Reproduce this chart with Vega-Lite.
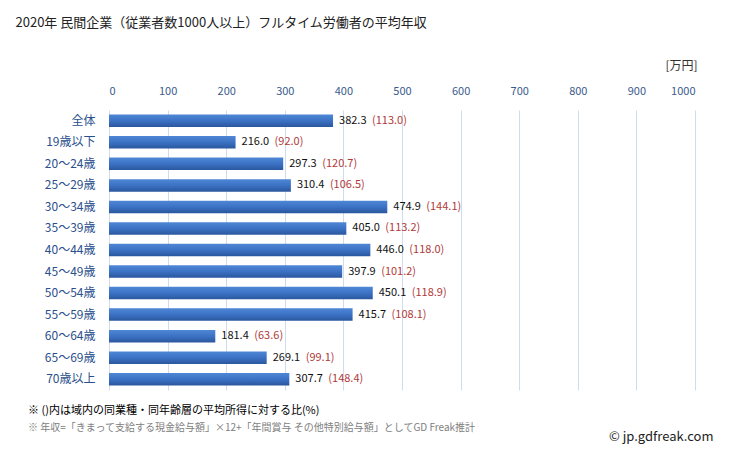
{
  "$schema": "https://vega.github.io/schema/vega-lite/v6.json",
  "autosize": "none",
  "width": 586,
  "height": 280,
  "padding": {"left": 109, "top": 110, "right": 34, "bottom": 61},
  "background": "white",
  "config": {
    "font": "Noto Sans CJK JP",
    "view": {"stroke": null}
  },
  "title": {
    "text": "※ ()内は域内の同業種・同年齢層の平均所得に対する比(%)",
    "subtitle": "※ 年収=「きまって支給する現金給与額」×12+「年間賞与 その他特別給与額」としてGD Freak推計",
    "orient": "bottom",
    "anchor": "start",
    "frame": "group",
    "dx": -81,
    "offset": 0,
    "dy": -38,
    "fontSize": 11,
    "fontWeight": "normal",
    "color": "#000000",
    "subtitleFontSize": 10,
    "subtitleColor": "#808080",
    "subtitlePadding": 7
  },
  "data": {
    "values": [
      {"category": "全体", "value": 382.3, "ratio": 113.0},
      {"category": "19歳以下", "value": 216.0, "ratio": 92.0},
      {"category": "20～24歳", "value": 297.3, "ratio": 120.7},
      {"category": "25～29歳", "value": 310.4, "ratio": 106.5},
      {"category": "30～34歳", "value": 474.9, "ratio": 144.1},
      {"category": "35～39歳", "value": 405.0, "ratio": 113.2},
      {"category": "40～44歳", "value": 446.0, "ratio": 118.0},
      {"category": "45～49歳", "value": 397.9, "ratio": 101.2},
      {"category": "50～54歳", "value": 450.1, "ratio": 118.9},
      {"category": "55～59歳", "value": 415.7, "ratio": 108.1},
      {"category": "60～64歳", "value": 181.4, "ratio": 63.6},
      {"category": "65～69歳", "value": 269.1, "ratio": 99.1},
      {"category": "70歳以上", "value": 307.7, "ratio": 148.4}
    ]
  },
  "transform": [
    {"calculate": "'(' + format(datum.ratio, '.1f') + ')'", "as": "ratio_label"}
  ],
  "resolve": {"axis": {"x": "independent", "y": "independent"}},
  "layer": [
    {
      "mark": {
        "type": "bar",
        "color": {
          "gradient": "linear",
          "x1": 0, "y1": 0, "x2": 0, "y2": 1,
          "stops": [
            {"offset": 0, "color": "#4f87d6"},
            {"offset": 0.5, "color": "#3c72c4"},
            {"offset": 1, "color": "#2a579e"}
          ]
        }
      },
      "encoding": {
        "y": {
          "field": "category",
          "type": "nominal",
          "sort": null,
          "scale": {"paddingInner": 0.42, "paddingOuter": 0.21},
          "axis": {
            "orient": "left",
            "title": "[万円]",
            "titleAngle": 0,
            "titleX": 588,
            "titleY": -45,
            "titleAlign": "right",
            "titleBaseline": "middle",
            "titleFontSize": 12,
            "titleFontWeight": "normal",
            "titleColor": "#333333",
            "ticks": false,
            "domain": false,
            "labelPadding": 14,
            "labelFontSize": 12,
            "labelColor": "#2a4f8c"
          }
        },
        "x": {
          "field": "value",
          "type": "quantitative",
          "scale": {"domain": [0, 1000], "nice": false},
          "axis": {
            "orient": "top",
            "values": [0, 100, 200, 300, 400, 500, 600, 700, 800, 900, 1000],
            "format": "d",
            "title": "2020年 民間企業（従業者数1000人以上）フルタイム労働者の平均年収",
            "titleX": -94,
            "titleY": -88,
            "titleAlign": "left",
            "titleAnchor": null,
            "titleBaseline": "middle",
            "titleFontSize": 13,
            "titleFontWeight": "normal",
            "titleColor": "#222222",
            "ticks": false,
            "domain": false,
            "labelPadding": 14,
            "labelFontSize": 11,
            "labelColor": "#3a5a8c",
            "grid": true,
            "gridColor": "#cfdcef",
            "gridWidth": 1
          }
        }
      }
    },
    {
      "mark": {"type": "text", "align": "left", "baseline": "middle", "dx": 6, "fontSize": 11, "color": "#111111"},
      "encoding": {
        "y": {
          "field": "category",
          "type": "nominal",
          "sort": null,
          "axis": {
            "orient": "right",
            "labels": false,
            "ticks": false,
            "domain": false,
            "grid": false,
            "title": "© jp.gdfreak.com",
            "titleAngle": 0,
            "titleX": 18,
            "titleY": 326,
            "titleAlign": "right",
            "titleBaseline": "middle",
            "titleFontSize": 13,
            "titleFontWeight": "normal",
            "titleColor": "#222222"
          }
        },
        "x": {"field": "value", "type": "quantitative", "axis": null},
        "text": {"field": "value", "type": "quantitative", "format": ".1f"}
      }
    },
    {
      "mark": {"type": "text", "align": "left", "baseline": "middle", "dx": 39, "fontSize": 11, "color": "#b03a3a"},
      "encoding": {
        "y": {"field": "category", "type": "nominal", "sort": null, "axis": null},
        "x": {"field": "value", "type": "quantitative", "axis": null},
        "text": {"field": "ratio_label", "type": "nominal"}
      }
    }
  ]
}
